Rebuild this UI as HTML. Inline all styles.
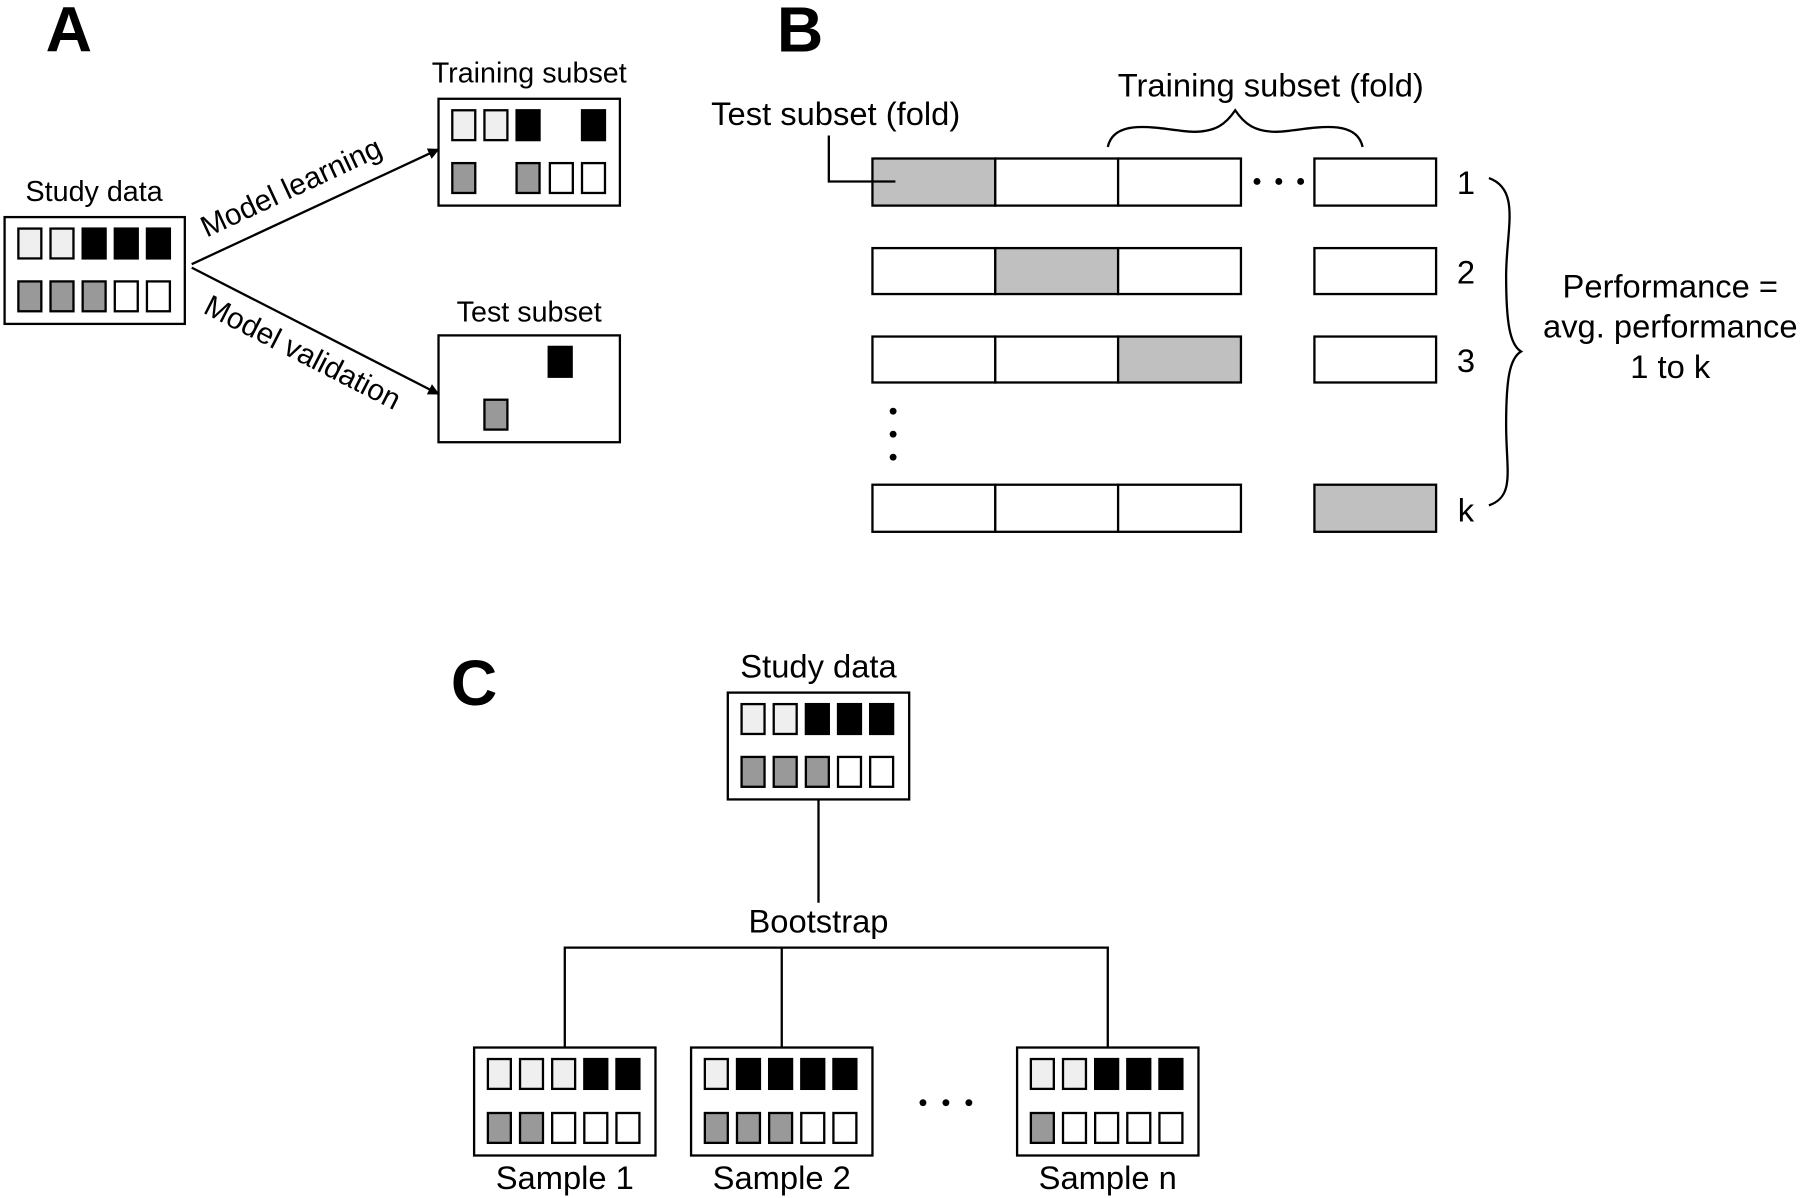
<!DOCTYPE html>
<html><head><meta charset="utf-8"><style>
html,body{margin:0;padding:0;background:#fff;}
svg{display:block;}
text{font-family:"Liberation Sans",sans-serif;fill:#000;}
</style></head><body>
<svg width="1800" height="1198" viewBox="0 0 1568 1043" preserveAspectRatio="none" xmlns="http://www.w3.org/2000/svg">
<defs>
<marker id="ar" markerWidth="10" markerHeight="10" refX="9" refY="5" orient="auto" markerUnits="userSpaceOnUse" viewBox="0 0 10 10"><path d="M0,0 L10,5 L0,10 z" fill="#000"/></marker>
</defs>
<g stroke="#000" stroke-width="2">
<!-- A -->
<rect x="4" y="189" width="157" height="93" fill="#fff"/>
<g transform="translate(4,189)">
<rect x="12" y="10" width="20" height="26" fill="#efefef"/><rect x="40" y="10" width="20" height="26" fill="#efefef"/><rect x="68" y="10" width="20" height="26" fill="#000"/><rect x="96" y="10" width="20" height="26" fill="#000"/><rect x="124" y="10" width="20" height="26" fill="#000"/>
<rect x="12" y="56" width="20" height="26" fill="#999"/><rect x="40" y="56" width="20" height="26" fill="#999"/><rect x="68" y="56" width="20" height="26" fill="#999"/><rect x="96" y="56" width="20" height="26" fill="#fff"/><rect x="124" y="56" width="20" height="26" fill="#fff"/>
</g>
<rect x="382" y="86" width="158" height="93" fill="#fff"/>
<rect x="394" y="96" width="20" height="26" fill="#efefef"/><rect x="422" y="96" width="20" height="26" fill="#efefef"/><rect x="450" y="96" width="20" height="26" fill="#000"/><rect x="507" y="96" width="20" height="26" fill="#000"/>
<rect x="394" y="142" width="20" height="26" fill="#999"/><rect x="450" y="142" width="20" height="26" fill="#999"/><rect x="479" y="142" width="20" height="26" fill="#fff"/><rect x="507" y="142" width="20" height="26" fill="#fff"/>
<rect x="382" y="292" width="158" height="93" fill="#fff"/>
<rect x="478" y="302" width="20" height="26" fill="#000"/>
<rect x="422" y="348" width="20" height="26" fill="#999"/>
<line x1="167" y1="230" x2="382" y2="130" marker-end="url(#ar)"/>
<line x1="167" y1="233" x2="382" y2="343" marker-end="url(#ar)"/>
<!-- B -->
<g fill="#fff">
<rect x="760" y="138" width="107" height="41" fill="#c0c0c0"/><rect x="867" y="138" width="107" height="41"/><rect x="974" y="138" width="107" height="41"/><rect x="1145" y="138" width="106" height="41"/>
<rect x="760" y="216" width="107" height="40"/><rect x="867" y="216" width="107" height="40" fill="#c0c0c0"/><rect x="974" y="216" width="107" height="40"/><rect x="1145" y="216" width="106" height="40"/>
<rect x="760" y="293" width="107" height="40"/><rect x="867" y="293" width="107" height="40"/><rect x="974" y="293" width="107" height="40" fill="#c0c0c0"/><rect x="1145" y="293" width="106" height="40"/>
<rect x="760" y="422" width="107" height="41"/><rect x="867" y="422" width="107" height="41"/><rect x="974" y="422" width="107" height="41"/><rect x="1145" y="422" width="106" height="41" fill="#c0c0c0"/>
</g>
<polyline points="722,118 722,158 780,158" fill="none"/>
<path d="M965,128 C970,105 1000,110 1030,114 C1060,118 1070,105 1076,96 C1082,105 1092,118 1122,114 C1152,110 1182,105 1187,128" fill="none"/>
<path d="M1297,155 C1325,165 1312,200 1312,240 C1312,280 1315,300 1325,306 C1315,312 1312,330 1312,370 C1312,410 1320,432 1297,440" fill="none"/>
<!-- C -->
<rect x="634" y="603" width="158" height="93" fill="#fff"/>
<g transform="translate(634,603)">
<rect x="12" y="10" width="20" height="26" fill="#efefef"/><rect x="40" y="10" width="20" height="26" fill="#efefef"/><rect x="68" y="10" width="20" height="26" fill="#000"/><rect x="96" y="10" width="20" height="26" fill="#000"/><rect x="124" y="10" width="20" height="26" fill="#000"/>
<rect x="12" y="56" width="20" height="26" fill="#999"/><rect x="40" y="56" width="20" height="26" fill="#999"/><rect x="68" y="56" width="20" height="26" fill="#999"/><rect x="96" y="56" width="20" height="26" fill="#fff"/><rect x="124" y="56" width="20" height="26" fill="#fff"/>
</g>
<line x1="713" y1="696" x2="713" y2="786"/>
<polyline points="492,912 492,825 965,825 965,912" fill="none"/>
<line x1="681" y1="825" x2="681" y2="912"/>
<rect x="413" y="912" width="158" height="94" fill="#fff"/>
<g transform="translate(413,912)">
<rect x="12" y="10" width="20" height="26" fill="#efefef"/><rect x="40" y="10" width="20" height="26" fill="#efefef"/><rect x="68" y="10" width="20" height="26" fill="#efefef"/><rect x="96" y="10" width="20" height="26" fill="#000"/><rect x="124" y="10" width="20" height="26" fill="#000"/>
<rect x="12" y="57" width="20" height="26" fill="#999"/><rect x="40" y="57" width="20" height="26" fill="#999"/><rect x="68" y="57" width="20" height="26" fill="#fff"/><rect x="96" y="57" width="20" height="26" fill="#fff"/><rect x="124" y="57" width="20" height="26" fill="#fff"/>
</g>
<rect x="602" y="912" width="158" height="94" fill="#fff"/>
<g transform="translate(602,912)">
<rect x="12" y="10" width="20" height="26" fill="#efefef"/><rect x="40" y="10" width="20" height="26" fill="#000"/><rect x="68" y="10" width="20" height="26" fill="#000"/><rect x="96" y="10" width="20" height="26" fill="#000"/><rect x="124" y="10" width="20" height="26" fill="#000"/>
<rect x="12" y="57" width="20" height="26" fill="#999"/><rect x="40" y="57" width="20" height="26" fill="#999"/><rect x="68" y="57" width="20" height="26" fill="#999"/><rect x="96" y="57" width="20" height="26" fill="#fff"/><rect x="124" y="57" width="20" height="26" fill="#fff"/>
</g>
<rect x="886" y="912" width="158" height="94" fill="#fff"/>
<g transform="translate(886,912)">
<rect x="12" y="10" width="20" height="26" fill="#efefef"/><rect x="40" y="10" width="20" height="26" fill="#efefef"/><rect x="68" y="10" width="20" height="26" fill="#000"/><rect x="96" y="10" width="20" height="26" fill="#000"/><rect x="124" y="10" width="20" height="26" fill="#000"/>
<rect x="12" y="57" width="20" height="26" fill="#999"/><rect x="40" y="57" width="20" height="26" fill="#fff"/><rect x="68" y="57" width="20" height="26" fill="#fff"/><rect x="96" y="57" width="20" height="26" fill="#fff"/><rect x="124" y="57" width="20" height="26" fill="#fff"/>
</g>
</g>
<!-- dots -->
<g fill="#000">
<circle cx="1095" cy="158" r="3"/><circle cx="1114" cy="158" r="3"/><circle cx="1133" cy="158" r="3"/>
<circle cx="778" cy="358" r="3"/><circle cx="778" cy="378" r="3"/><circle cx="778" cy="398" r="3"/>
<circle cx="804" cy="960" r="3"/><circle cx="824" cy="960" r="3"/><circle cx="844" cy="960" r="3"/>
</g>
<!-- text -->
<g font-size="25">
<text x="82" y="175" text-anchor="middle">Study data</text>
<text x="461" y="72" text-anchor="middle">Training subset</text>
<text x="461" y="280" text-anchor="middle">Test subset</text>
<text transform="translate(180,207) rotate(-25)" font-size="26">Model learning</text>
<text transform="translate(176,272) rotate(27)" font-size="26">Model validation</text>
</g>
<g font-size="28.5">
<text x="728" y="109" text-anchor="middle">Test subset (fold)</text>
<text x="1107" y="84" text-anchor="middle">Training subset (fold)</text>
<text x="1277" y="169" text-anchor="middle">1</text>
<text x="1277" y="247" text-anchor="middle">2</text>
<text x="1277" y="324" text-anchor="middle">3</text>
<text x="1277" y="454" text-anchor="middle">k</text>
<text x="1455" y="259" text-anchor="middle">Performance =</text>
<text x="1455" y="294" text-anchor="middle">avg. performance</text>
<text x="1455" y="329" text-anchor="middle">1 to k</text>
<text x="713" y="590" text-anchor="middle">Study data</text>
<text x="713" y="812" text-anchor="middle">Bootstrap</text>
<text x="492" y="1035" text-anchor="middle">Sample 1</text>
<text x="681" y="1035" text-anchor="middle">Sample 2</text>
<text x="965" y="1035" text-anchor="middle">Sample n</text>
</g>
<g font-size="56" font-weight="bold">
<text x="60" y="45" text-anchor="middle">A</text>
<text x="697" y="45" text-anchor="middle">B</text>
<text x="413" y="614" text-anchor="middle">C</text>
</g>
</svg>
</body></html>
